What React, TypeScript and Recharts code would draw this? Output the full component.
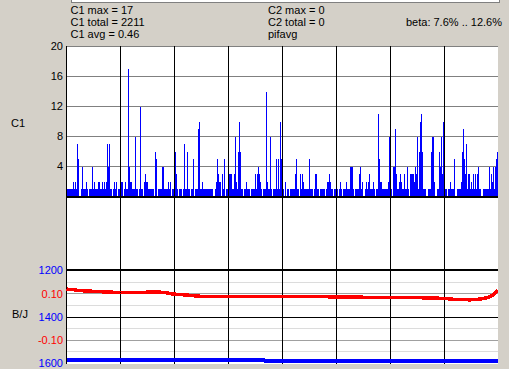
import { BarChart, Bar, LineChart, Line, XAxis, YAxis, CartesianGrid, ReferenceLine } from 'recharts';

const FONT = '"Liberation Sans", Arial, sans-serif';

// C1 counts, one per pixel column of the top panel
const c1Counts = [
  3, 1, 1, 1, 1, 1, 1, 2, 1, 2, 1, 7, 5, 0, 0, 1, 4, 1, 1, 1, 2, 1, 0, 1,
  1, 1, 4, 1, 2, 1, 1, 1, 2, 2, 1, 1, 2, 1, 2, 1, 2, 7, 4, 7, 1, 1, 0, 1,
  2, 1, 2, 0, 1, 1, 1, 2, 2, 0, 1, 2, 1, 1, 17, 4, 2, 2, 1, 1, 1, 8, 1, 1,
  0, 1, 12, 1, 1, 0, 2, 3, 2, 2, 1, 1, 1, 1, 1, 1, 0, 6, 5, 0, 1, 1, 1, 1,
  4, 4, 1, 1, 1, 1, 2, 1, 2, 0, 1, 1, 1, 6, 3, 1, 0, 1, 1, 1, 0, 1, 7, 1,
  1, 6, 1, 1, 0, 1, 1, 5, 0, 1, 1, 1, 9, 10, 1, 1, 2, 1, 1, 1, 1, 1, 1, 1,
  1, 1, 1, 0, 0, 1, 2, 5, 3, 2, 2, 0, 3, 1, 5, 0, 1, 1, 1, 3, 3, 3, 1, 1,
  3, 8, 2, 1, 6, 10, 6, 1, 1, 0, 1, 1, 2, 1, 1, 1, 0, 1, 1, 1, 1, 3, 1, 3,
  4, 3, 2, 1, 0, 1, 1, 1, 14, 2, 1, 1, 8, 1, 0, 1, 1, 1, 5, 1, 5, 1, 10, 5,
  1, 1, 0, 2, 0, 1, 1, 0, 1, 1, 1, 1, 1, 3, 5, 1, 1, 0, 3, 1, 3, 2, 1, 1,
  1, 1, 1, 5, 1, 1, 1, 0, 1, 3, 3, 1, 1, 0, 1, 1, 1, 1, 1, 0, 1, 2, 2, 3,
  2, 1, 1, 0, 1, 1, 1, 1, 0, 1, 2, 1, 0, 1, 1, 1, 2, 1, 1, 1, 4, 4, 4, 1,
  0, 1, 1, 1, 1, 3, 4, 1, 2, 0, 0, 1, 2, 1, 2, 3, 1, 1, 1, 2, 1, 0, 1, 1,
  11, 5, 2, 2, 1, 1, 1, 1, 1, 1, 2, 8, 1, 1, 0, 4, 4, 9, 3, 1, 1, 2, 3, 2,
  1, 1, 3, 1, 1, 4, 1, 0, 3, 3, 3, 3, 2, 4, 3, 8, 1, 6, 10, 11, 6, 1, 1, 1,
  0, 0, 1, 1, 1, 6, 8, 8, 2, 0, 0, 1, 1, 6, 4, 8, 3, 10, 6, 1, 1, 0, 1, 1,
  2, 1, 1, 1, 5, 0, 0, 1, 1, 1, 1, 2, 6, 9, 5, 3, 7, 1, 3, 3, 1, 2, 1, 3,
  1, 3, 1, 3, 4, 1, 1, 0, 0, 1, 1, 1, 1, 1, 1, 4, 1, 3, 2, 4, 1, 4, 5, 6,
];

const sectionTicks = [0, 54, 108, 162, 216, 270, 324, 378];
const c1Ticks = [4, 8, 12, 16, 20];

// lower panel: sample position, pifavg (red) and B/J (blue)
const lineT = [0, 6, 12, 24, 38, 54, 75, 84, 98, 106, 119, 134, 164, 194, 224, 254, 271, 294, 324, 354, 378, 389, 404, 414, 422, 427, 431];
const pifValues = [0.12, 0.118, 0.114, 0.111, 0.108, 0.105, 0.105, 0.108, 0.106, 0.099, 0.095, 0.089, 0.088, 0.089, 0.088, 0.088, 0.086, 0.085, 0.084, 0.083, 0.08, 0.075, 0.074, 0.077, 0.084, 0.095, 0.116];
const bjValues = [1585, 1585, 1586, 1585, 1586, 1585, 1586, 1585, 1586, 1586, 1587, 1586, 1587, 1587, 1588, 1588, 1589, 1589, 1590, 1590, 1590, 1591, 1591, 1590, 1591, 1591, 1591];
const bjTicks = [1200, 1400, 1600];

const barData = c1Counts.map((v, i) => ({ idx: i, c1: v }));
const lineData = lineT.map((t, i) => ({ t, pif: pifValues[i], bj: bjValues[i] }));

export default function App() {
  return (
    <div style={{ position: 'absolute', left: 0, top: 0, width: 509, height: 369, background: '#D4D0C8', overflow: 'hidden', fontFamily: FONT }}>
      <div style={{ position: 'absolute', left: 66, top: 46, width: 432, height: 318, background: '#FFFFFF' }} />

      <div style={{ position: 'absolute', left: 0, top: 0, shapeRendering: 'crispEdges' }}>
        <BarChart width={509} height={270} data={barData} margin={{ top: 46, right: 11, bottom: 0, left: 0 }} barCategoryGap={0} barGap={0}>
          <CartesianGrid horizontal={true} vertical={false} stroke="#808080" />
          <XAxis dataKey="idx" height={0} tick={false} axisLine={false} tickLine={false} />
          <YAxis
            width={66}
            domain={[-9.8, 20.0667]}
            allowDataOverflow
            ticks={c1Ticks}
            interval={0}
            axisLine={false}
            tickLine={false}
            tickSize={0}
            tickMargin={3}
            tick={{ fill: '#000000', fontSize: 11, fontFamily: FONT }}
          />
          {sectionTicks.map((k) => (
            <ReferenceLine key={k} x={k} stroke="#000000" />
          ))}
          <Bar dataKey="c1" fill="#0000FF" barSize={1} isAnimationActive={false} />
          <ReferenceLine y={0} stroke="#000000" strokeWidth={2} />
        </BarChart>
      </div>

      <div style={{ position: 'absolute', left: 0, top: 0, shapeRendering: 'crispEdges' }}>
        <LineChart width={509} height={369} data={lineData} margin={{ top: 270, right: 11, bottom: 5, left: 0 }}>
          <XAxis dataKey="t" type="number" domain={[-0.5, 431.5]} allowDataOverflow height={0} tick={false} axisLine={false} tickLine={false} />
          <YAxis
            yAxisId="bj"
            width={66}
            domain={[1197.85, 1602.15]}
            allowDataOverflow
            reversed
            ticks={bjTicks}
            interval={0}
            axisLine={false}
            tickLine={false}
            tickSize={0}
            tickMargin={3}
            tick={{ fill: '#0000FF', fontSize: 11, fontFamily: FONT }}
          />
          <YAxis yAxisId="pif" hide domain={[-0.2022, 0.2022]} allowDataOverflow />
          <ReferenceLine yAxisId="bj" y={1250} stroke="#DCDCDC" />
          <ReferenceLine yAxisId="bj" y={1350} stroke="#DCDCDC" />
          <ReferenceLine yAxisId="bj" y={1450} stroke="#DCDCDC" />
          <ReferenceLine yAxisId="bj" y={1550} stroke="#DCDCDC" />
          <ReferenceLine yAxisId="bj" y={1400} stroke="#000000" />
          <ReferenceLine
            yAxisId="pif"
            y={0.1}
            stroke="#A0A0A0"
            label={{ value: '0.10', position: 'left', offset: 3, fill: '#FF0000', fontSize: 11, fontFamily: FONT }}
          />
          <ReferenceLine
            yAxisId="pif"
            y={-0.1}
            stroke="#A0A0A0"
            label={{ value: '-0.10', position: 'left', offset: 3, fill: '#FF0000', fontSize: 11, fontFamily: FONT }}
          />
          {sectionTicks.map((k) => (
            <ReferenceLine key={k} yAxisId="bj" x={k} stroke="#000000" />
          ))}
          <ReferenceLine yAxisId="bj" y={1200} stroke="#000000" strokeWidth={2} />
          <Line yAxisId="pif" dataKey="pif" type="linear" stroke="#FF0000" strokeWidth={3.5} dot={false} isAnimationActive={false} />
          <Line yAxisId="bj" dataKey="bj" type="linear" stroke="#0000FF" strokeWidth={4} dot={false} isAnimationActive={false} />
        </LineChart>
      </div>

      <svg width={509} height={369} style={{ position: 'absolute', left: 0, top: 0, pointerEvents: 'none' }} fontFamily={FONT} fontSize={11} fill="#000000">
        <rect x={71.5} y={-1.5} width={428} height={4} fill="#FFFFFF" stroke="#808080" />
        <text x={70.5} y={13.5}>C1 max = 17</text>
        <text x={70.5} y={25.5}>C1 total = 2211</text>
        <text x={70.5} y={37.5}>C1 avg = 0.46</text>
        <text x={268} y={13.5}>C2 max = 0</text>
        <text x={268} y={25.5}>C2 total = 0</text>
        <text x={268} y={37.5}>pifavg</text>
        <text x={502} y={25.5} textAnchor="end">beta: 7.6% .. 12.6%</text>
        <text x={11} y={126.5}>C1</text>
        <text x={12} y={318}>B/J</text>
      </svg>
    </div>
  );
}
